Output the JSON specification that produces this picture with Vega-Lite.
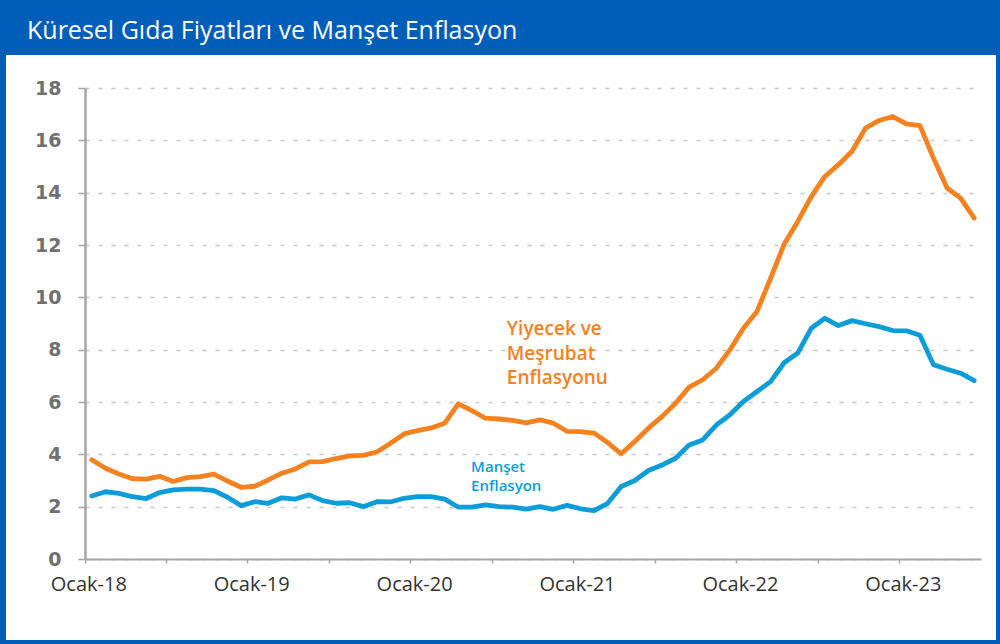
{
  "$schema": "https://vega.github.io/schema/vega-lite/v6.json",
  "width": 990,
  "height": 585,
  "autosize": {"type": "none"},
  "padding": {"left": 6, "top": 55, "right": 4, "bottom": 4},
  "background": "#005EB8",
  "title": {
    "text": "Küresel Gıda Fiyatları ve Manşet Enflasyon",
    "anchor": "start",
    "frame": "group",
    "color": "white",
    "font": "Liberation Sans Narrow, Open Sans",
    "fontSize": 25,
    "fontWeight": 500,
    "baseline": "alphabetic",
    "offset": 17,
    "dx": 21,
    "dy": 26
  },
  "datasets": {
    "seriler": [
      {"ay": "2018-01", "gida": 3.79, "manset": 2.41},
      {"ay": "2018-02", "gida": 3.47, "manset": 2.57},
      {"ay": "2018-03", "gida": 3.25, "manset": 2.51},
      {"ay": "2018-04", "gida": 3.07, "manset": 2.38},
      {"ay": "2018-05", "gida": 3.05, "manset": 2.31},
      {"ay": "2018-06", "gida": 3.16, "manset": 2.54},
      {"ay": "2018-07", "gida": 2.96, "manset": 2.64},
      {"ay": "2018-08", "gida": 3.11, "manset": 2.67},
      {"ay": "2018-09", "gida": 3.15, "manset": 2.67},
      {"ay": "2018-10", "gida": 3.24, "manset": 2.61},
      {"ay": "2018-11", "gida": 2.98, "manset": 2.36},
      {"ay": "2018-12", "gida": 2.74, "manset": 2.04},
      {"ay": "2019-01", "gida": 2.78, "manset": 2.19},
      {"ay": "2019-02", "gida": 3.02, "manset": 2.13},
      {"ay": "2019-03", "gida": 3.28, "manset": 2.34},
      {"ay": "2019-04", "gida": 3.44, "manset": 2.29},
      {"ay": "2019-05", "gida": 3.71, "manset": 2.45},
      {"ay": "2019-06", "gida": 3.72, "manset": 2.23},
      {"ay": "2019-07", "gida": 3.84, "manset": 2.13},
      {"ay": "2019-08", "gida": 3.94, "manset": 2.15},
      {"ay": "2019-09", "gida": 3.96, "manset": 2.0},
      {"ay": "2019-10", "gida": 4.09, "manset": 2.19},
      {"ay": "2019-11", "gida": 4.42, "manset": 2.18},
      {"ay": "2019-12", "gida": 4.78, "manset": 2.32},
      {"ay": "2020-01", "gida": 4.91, "manset": 2.38},
      {"ay": "2020-02", "gida": 5.01, "manset": 2.38},
      {"ay": "2020-03", "gida": 5.19, "manset": 2.29},
      {"ay": "2020-04", "gida": 5.93, "manset": 1.98},
      {"ay": "2020-05", "gida": 5.67, "manset": 1.98},
      {"ay": "2020-06", "gida": 5.38, "manset": 2.07},
      {"ay": "2020-07", "gida": 5.35, "manset": 2.0},
      {"ay": "2020-08", "gida": 5.30, "manset": 1.98},
      {"ay": "2020-09", "gida": 5.20, "manset": 1.91},
      {"ay": "2020-10", "gida": 5.32, "manset": 2.0},
      {"ay": "2020-11", "gida": 5.19, "manset": 1.9},
      {"ay": "2020-12", "gida": 4.88, "manset": 2.05},
      {"ay": "2021-01", "gida": 4.87, "manset": 1.92},
      {"ay": "2021-02", "gida": 4.81, "manset": 1.85},
      {"ay": "2021-03", "gida": 4.45, "manset": 2.13},
      {"ay": "2021-04", "gida": 4.02, "manset": 2.77},
      {"ay": "2021-05", "gida": 4.49, "manset": 3.0},
      {"ay": "2021-06", "gida": 5.0, "manset": 3.38},
      {"ay": "2021-07", "gida": 5.44, "manset": 3.59},
      {"ay": "2021-08", "gida": 5.95, "manset": 3.85},
      {"ay": "2021-09", "gida": 6.57, "manset": 4.36},
      {"ay": "2021-10", "gida": 6.85, "manset": 4.55},
      {"ay": "2021-11", "gida": 7.29, "manset": 5.12},
      {"ay": "2021-12", "gida": 7.99, "manset": 5.51},
      {"ay": "2022-01", "gida": 8.82, "manset": 6.02},
      {"ay": "2022-02", "gida": 9.46, "manset": 6.4},
      {"ay": "2022-03", "gida": 10.73, "manset": 6.78},
      {"ay": "2022-04", "gida": 12.03, "manset": 7.5},
      {"ay": "2022-05", "gida": 12.9, "manset": 7.87},
      {"ay": "2022-06", "gida": 13.85, "manset": 8.82},
      {"ay": "2022-07", "gida": 14.62, "manset": 9.2},
      {"ay": "2022-08", "gida": 15.07, "manset": 8.92},
      {"ay": "2022-09", "gida": 15.58, "manset": 9.11},
      {"ay": "2022-10", "gida": 16.47, "manset": 8.99},
      {"ay": "2022-11", "gida": 16.76, "manset": 8.88},
      {"ay": "2022-12", "gida": 16.91, "manset": 8.73},
      {"ay": "2023-01", "gida": 16.63, "manset": 8.72},
      {"ay": "2023-02", "gida": 16.56, "manset": 8.55},
      {"ay": "2023-03", "gida": 15.32, "manset": 7.42},
      {"ay": "2023-04", "gida": 14.18, "manset": 7.25},
      {"ay": "2023-05", "gida": 13.79, "manset": 7.1},
      {"ay": "2023-06", "gida": 13.03, "manset": 6.82}
    ],
    "notlar": [
      {"ay": "2020-08", "deger": 8.8, "metin": "Yiyecek ve", "seri": "gida"},
      {"ay": "2020-08", "deger": 7.84, "metin": "Meşrubat", "seri": "gida"},
      {"ay": "2020-08", "deger": 6.92, "metin": "Enflasyonu", "seri": "gida"},
      {"ay": "2020-05", "deger": 3.52, "metin": "Manşet", "seri": "manset"},
      {"ay": "2020-05", "deger": 2.79, "metin": "Enflasyon", "seri": "manset"}
    ]
  },
  "layer": [
    {
      "data": {"name": "seriler"},
      "transform": [{"fold": ["gida", "manset"], "as": ["seri", "deger"]}],
      "mark": {"type": "line", "strokeWidth": 4.8, "strokeCap": "round", "strokeJoin": "round"},
      "encoding": {
        "x": {
          "field": "ay",
          "type": "ordinal",
          "bandPosition": 0.5,
          "scale": {"type": "band", "range": [79, 975], "paddingInner": 0, "paddingOuter": 0},
          "axis": {
            "title": null,
            "offset": -81,
            "values": ["2018-01", "2018-07", "2019-01", "2019-07", "2020-01", "2020-07", "2021-01", "2021-07", "2022-01", "2022-07", "2023-01"],
            "bandPosition": 0,
            "labelExpr": "substring(datum.value, 5, 7) == '01' ? 'Ocak-' + substring(datum.value, 2, 4) : ''",
            "labelOffset": -3,
            "labelAngle": 0,
            "labelFont": "Open Sans",
            "labelFontSize": 20,
            "labelColor": "#333333",
            "labelPadding": 11,
            "tickSize": 4,
            "tickColor": "#A6A6A6",
            "tickWidth": 1.5,
            "domainColor": "#A6A6A6",
            "domainWidth": 2,
            "grid": false
          }
        },
        "y": {
          "field": "deger",
          "type": "quantitative",
          "scale": {"domain": [0, 18], "range": [504, 33], "nice": false, "zero": true},
          "axis": {
            "title": null,
            "offset": -79,
            "values": [0, 2, 4, 6, 8, 10, 12, 14, 16, 18],
            "labelFont": "DejaVu Sans",
            "labelFontWeight": "bold",
            "labelFontSize": 19,
            "labelColor": "#707070",
            "labelPadding": 17,
            "tickSize": 7,
            "tickColor": "#A6A6A6",
            "tickWidth": 1.5,
            "domainColor": "#A6A6A6",
            "domainWidth": 2.5,
            "grid": true,
            "gridColor": "#C8C8C8",
            "gridDash": [4, 9],
            "gridWidth": 1.3
          }
        },
        "color": {
          "field": "seri",
          "type": "nominal",
          "scale": {"domain": ["gida", "manset"], "range": ["#F5821F", "#0C9DD8"]},
          "legend": null
        }
      }
    },
    {
      "data": {"name": "notlar"},
      "transform": [{"filter": "datum.seri == 'gida'"}],
      "mark": {"type": "text", "align": "left", "baseline": "middle", "font": "Open Sans", "fontSize": 19, "fontWeight": 600, "dx": 1},
      "encoding": {
        "x": {"field": "ay", "type": "ordinal", "bandPosition": 0},
        "y": {"field": "deger", "type": "quantitative"},
        "text": {"field": "metin"},
        "color": {"field": "seri", "type": "nominal", "legend": null}
      }
    },
    {
      "data": {"name": "notlar"},
      "transform": [{"filter": "datum.seri == 'manset'"}],
      "mark": {"type": "text", "align": "left", "baseline": "middle", "font": "Open Sans", "fontSize": 15, "fontWeight": 600, "dx": 6},
      "encoding": {
        "x": {"field": "ay", "type": "ordinal", "bandPosition": 0},
        "y": {"field": "deger", "type": "quantitative"},
        "text": {"field": "metin"},
        "color": {"field": "seri", "type": "nominal", "legend": null}
      }
    }
  ],
  "config": {
    "view": {"fill": "white", "stroke": null}
  }
}
